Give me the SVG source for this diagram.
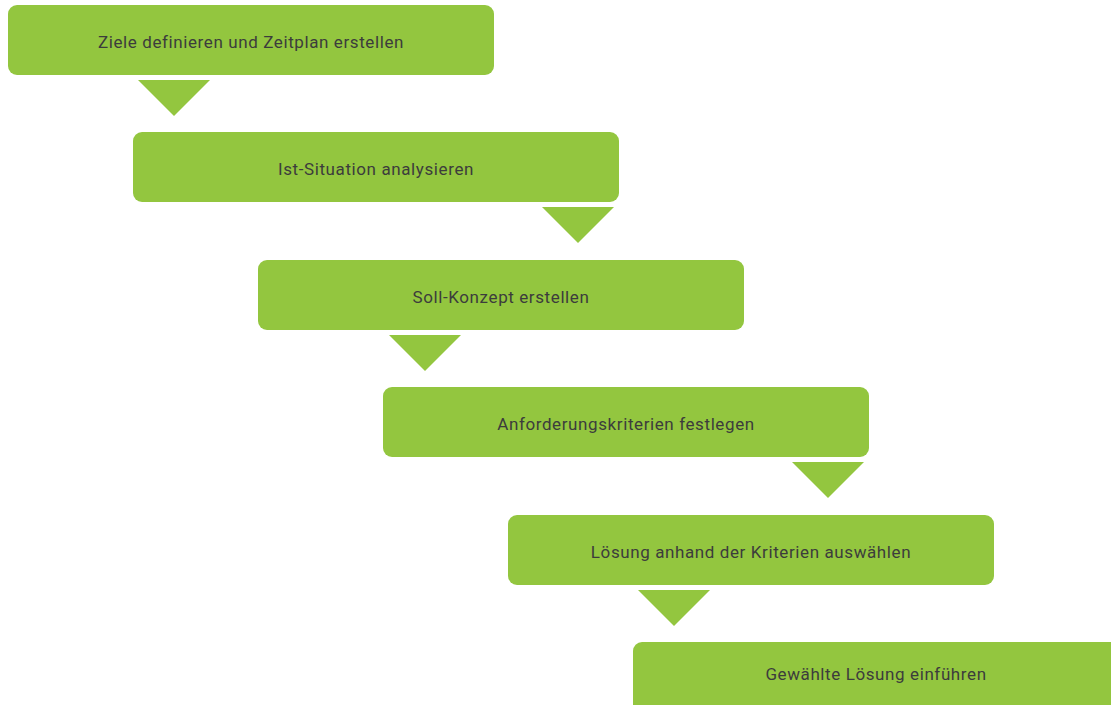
<svg xmlns="http://www.w3.org/2000/svg" width="1111" height="705" viewBox="0 0 1111 705">
<style>
.box{fill:#93c63f}
.tri{fill:#93c63f}
.lbl{font-family:Roboto,"Liberation Sans",sans-serif;font-size:17px;letter-spacing:0.6px;fill:#3c3c3c;text-anchor:middle;dominant-baseline:central}
</style>
<rect width="1111" height="705" fill="#ffffff"/>
<g id="n1"><rect class="box" x="8" y="5" width="486" height="70" rx="9"/><text class="lbl" x="251" y="42">Ziele definieren und Zeitplan erstellen</text></g>
<g id="n2"><rect class="box" x="133" y="132" width="486" height="70" rx="9"/><text class="lbl" x="376" y="169">Ist-Situation analysieren</text></g>
<g id="n3"><rect class="box" x="258" y="260" width="486" height="70" rx="9"/><text class="lbl" x="501" y="297">Soll-Konzept erstellen</text></g>
<g id="n4"><rect class="box" x="383" y="387" width="486" height="70" rx="9"/><text class="lbl" x="626" y="424">Anforderungskriterien festlegen</text></g>
<g id="n5"><rect class="box" x="508" y="515" width="486" height="70" rx="9"/><text class="lbl" x="751" y="552">Lösung anhand der Kriterien auswählen</text></g>
<g id="n6"><rect class="box" x="633" y="642" width="500" height="80" rx="9"/><text class="lbl" x="876" y="674">Gewählte Lösung einführen</text></g>
<g id="connectors">
<polygon class="tri" points="138,80 210,80 174,116"/>
<polygon class="tri" points="542,207 614,207 578,243"/>
<polygon class="tri" points="389,335 461,335 425,371"/>
<polygon class="tri" points="792,462 864,462 828,498"/>
<polygon class="tri" points="638,590 710,590 674,626"/>
</g>
</svg>
